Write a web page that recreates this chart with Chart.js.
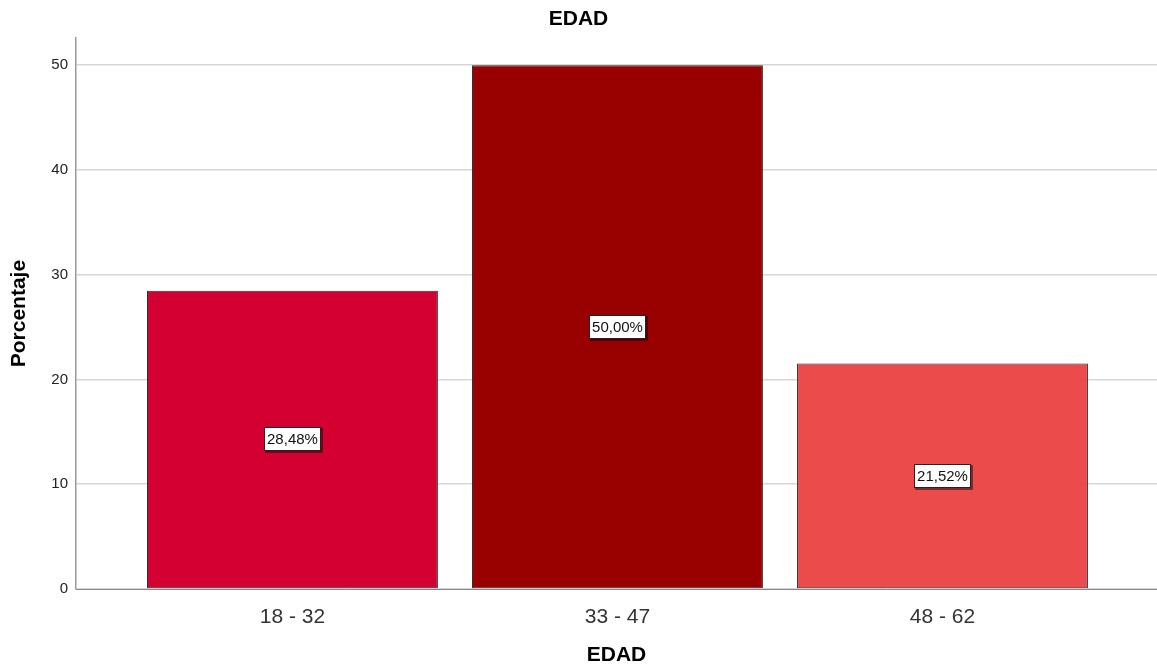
<!DOCTYPE html>
<html lang="es">
<head>
    <meta charset="UTF-8">
    <title>EDAD</title>
    <script src="https://cdn.jsdelivr.net/npm/chart.js"></script>
    <style>
        body {
            margin: 0;
            padding: 0;
            background: #fff;
        }
        #wrap {
            width: 1157px;
            height: 669px;
        }
    </style>
</head>
<body>
    <div id="wrap">
        <canvas id="edadChart" width="1157" height="669"></canvas>
    </div>

    <script>
        // datos
        const categories = ['18 - 32', '33 - 47', '48 - 62'];
        const percentages = [28.48, 50.00, 21.52];
        const barColors = ['#D50032', '#990000', '#EC4B4B'];
        const yTicks = [0, 10, 20, 30, 40, 50];

        const FONT = '"Liberation Sans", Arial, sans-serif';

        // etiqueta blanca con borde en el centro de cada barra
        const boxLabels = {
            id: 'boxLabels',
            afterDatasetsDraw(chart) {
                const ctx = chart.ctx;
                const meta = chart.getDatasetMeta(0);
                ctx.save();
                ctx.font = '15px ' + FONT;
                ctx.textAlign = 'center';
                ctx.textBaseline = 'middle';
                meta.data.forEach((bar, i) => {
                    const text = percentages[i].toFixed(2).replace('.', ',') + '%';
                    const w = Math.round(ctx.measureText(text).width) + 6;
                    const h = 24;
                    const cx = bar.x;
                    const cy = (bar.y + bar.base) / 2;
                    const left = Math.round(cx - w / 2);
                    const top = Math.round(cy - h / 2);
                    // sombra
                    ctx.fillStyle = 'rgba(0,0,0,0.45)';
                    ctx.fillRect(left + 1, top + 1, w + 1, h + 1);
                    ctx.fillStyle = '#fff';
                    ctx.fillRect(left, top, w, h);
                    ctx.strokeStyle = '#222';
                    ctx.lineWidth = 1;
                    ctx.strokeRect(left + 0.5, top + 0.5, w - 1, h - 1);
                    ctx.fillStyle = '#111';
                    ctx.fillText(text, cx, top + h / 2 + 1);
                });
                ctx.restore();
            }
        };

        const ctx = document.getElementById('edadChart').getContext('2d');
        new Chart(ctx, {
            type: 'bar',
            data: {
                datasets: [{
                    label: 'Porcentaje',
                    data: percentages.map((v, i) => ({ x: i + 1, y: v })),
                    backgroundColor: barColors,
                    borderColor: '#2a2a2a',
                    borderWidth: 1,
                    borderSkipped: false,
                    barPercentage: 0.895,
                    categoryPercentage: 1
                }]
            },
            options: {
                responsive: false,
                animation: false,
                layout: { padding: 0 },
                plugins: {
                    legend: { display: false },
                    tooltip: { enabled: false },
                    title: {
                        display: true,
                        text: 'EDAD',
                        color: '#000',
                        font: { family: FONT, size: 21, weight: 'bold' },
                        padding: { top: 7, bottom: 6 }
                    }
                },
                scales: {
                    x: {
                        type: 'linear',
                        offset: false,
                        min: 0.334,
                        max: 3.66,
                        afterFit: scale => { scale.height = 80; },
                        afterBuildTicks: scale => {
                            scale.ticks = categories.map((c, i) => ({ value: i + 1 }));
                        },
                        ticks: {
                            callback: v => categories[v - 1],
                            color: '#333',
                            font: { family: FONT, size: 21 },
                            padding: 8,
                            maxRotation: 0,
                            autoSkip: false
                        },
                        grid: { display: false, offset: false },
                        border: { display: true, color: '#888', width: 1 },
                        title: {
                            display: true,
                            text: 'EDAD',
                            color: '#000',
                            font: { family: FONT, size: 21, weight: 'bold' },
                            padding: { top: 0, bottom: 1 }
                        }
                    },
                    y: {
                        min: 0,
                        max: 52.58,
                        afterFit: scale => { scale.width = 76; },
                        afterBuildTicks: scale => {
                            scale.ticks = yTicks.map(v => ({ value: v }));
                        },
                        ticks: {
                            color: '#222',
                            font: { family: FONT, size: 15 },
                            padding: 8
                        },
                        grid: {
                            color: '#d6d6d6',
                            lineWidth: 1.5,
                            drawTicks: false
                        },
                        border: { display: true, color: '#999', width: 1.5 },
                        title: {
                            display: true,
                            text: 'Porcentaje',
                            color: '#000',
                            font: { family: FONT, size: 21, weight: 'bold' },
                            padding: { top: 7, bottom: 0 }
                        }
                    }
                }
            },
            plugins: [boxLabels]
        });
    </script>
</body>
</html>
